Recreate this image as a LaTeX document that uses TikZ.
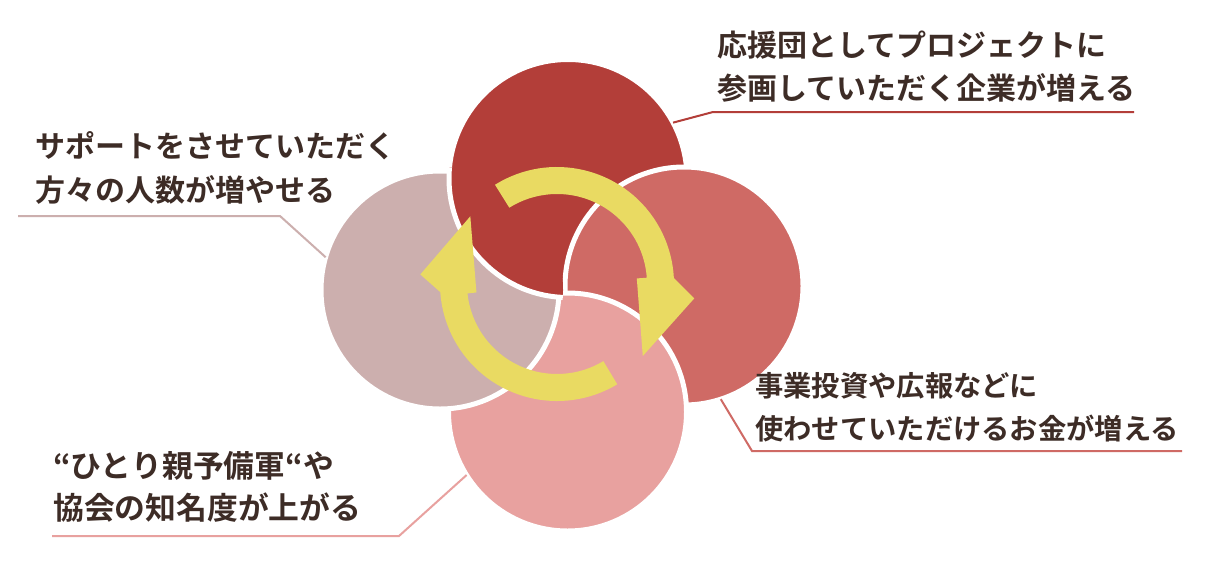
\documentclass[tikz,border=0pt]{standalone}
\usepackage{fontspec}
\newfontfamily\jp{Noto Sans CJK JP}[BoldFont={* Bold}]
\definecolor{ctop}{HTML}{B33E39}
\definecolor{cright}{HTML}{CF6A65}
\definecolor{cbottom}{HTML}{E8A19F}
\definecolor{cleft}{HTML}{CCAFAE}
\definecolor{cyellow}{HTML}{E9DA62}
\definecolor{ctext}{HTML}{3D2C26}
\tikzset{
  disc/.style={circle, minimum size=238pt, inner sep=0pt, outer sep=0pt, draw=white, line width=5pt},
  lbl/.style={anchor=base west, inner sep=0pt, text=ctext, font=\jp\bfseries\fontsize{30}{36}\selectfont},
  lblsmall/.style={lbl, font=\jp\bfseries\fontsize{28.3}{34}\selectfont},
  lblbig/.style={lbl, font=\jp\bfseries\fontsize{30.8}{36}\selectfont},
  leader/.style={line width=2pt},
  ring/.style={fill=cyellow}
}
\begin{document}
\begin{tikzpicture}[x=1pt,y=-1pt]
\useasboundingbox (0,0) rectangle (1210,560);
\fill[white] (0,0) rectangle (1210,560);

% positions of the discs
\coordinate (pT) at (568,178.5);
\coordinate (pR) at (684,286);
\coordinate (pB) at (567.5,412);
\coordinate (pL) at (440,290);

% leader elbows and ends
\coordinate (eT) at (713,112);
\coordinate (fT) at (1134,112);
\coordinate (eL) at (280,216);
\coordinate (fL) at (18,216);
\coordinate (eR) at (752,451);
\coordinate (fR) at (1182,451);
\coordinate (eB) at (399,536);
\coordinate (fB) at (52,536);

% discs (pinwheel order)
\node[disc, fill=ctop] (top) at (pT) {};
\node[disc, fill=cright] (right) at (pR) {};
\node[disc, fill=cbottom] (bottom) at (pB) {};
\node[disc, fill=cleft] (left) at (pL) {};
\begin{scope}
  \clip (left.center) circle[radius=123];
  \fill[ctop, draw=white, line width=5pt] (top.center) circle[radius=119];
\end{scope}

% leaders
\draw[leader, ctop] (top.28) -- (eT) -- (fT);
\draw[leader, cleft] (left.164) -- (eL) -- (fL);
\draw[leader, cright] (right.-72) -- (eR) -- (fR);
\draw[leader, cbottom] (bottom.-148) -- (eB) -- (fB);

% yellow cycle arrows
\begin{scope}[shift={(557,284)}]
  \fill[ring] (-122:117) arc[start angle=-122, end angle=-3, radius=117]
    -- (6:138) -- (40:112) -- (-4:80) -- (-4:90)
    arc[start angle=-4, end angle=-122, radius=90] -- cycle;
  \fill[ring] (59:117) arc[start angle=59, end angle=176, radius=117]
    -- (184:137) -- (218:110) -- (174:81) -- (174:90)
    arc[start angle=174, end angle=59, radius=90] -- cycle;
\end{scope}

% labels
\node[lbl] (t1) at (717,56) {応援団としてプロジェクトに};
\node[lbl] (t2) at (717,99) {参画していただく企業が増える};
\node[lbl] (l1) at (35,157) {サポートをさせていただく};
\node[lbl] (l2) at (35,201) {方々の人数が増やせる};
\node[lblsmall] (r1) at (755,396) {事業投資や広報などに};
\node[lblsmall] (r2) at (755,439) {使わせていただけるお金が増える};
\node[lblbig] (b1) at (53,477) {“ひとり親予備軍“や};
\node[lblbig] (b2) at (53,519) {協会の知名度が上がる};
\end{tikzpicture}
\end{document}
